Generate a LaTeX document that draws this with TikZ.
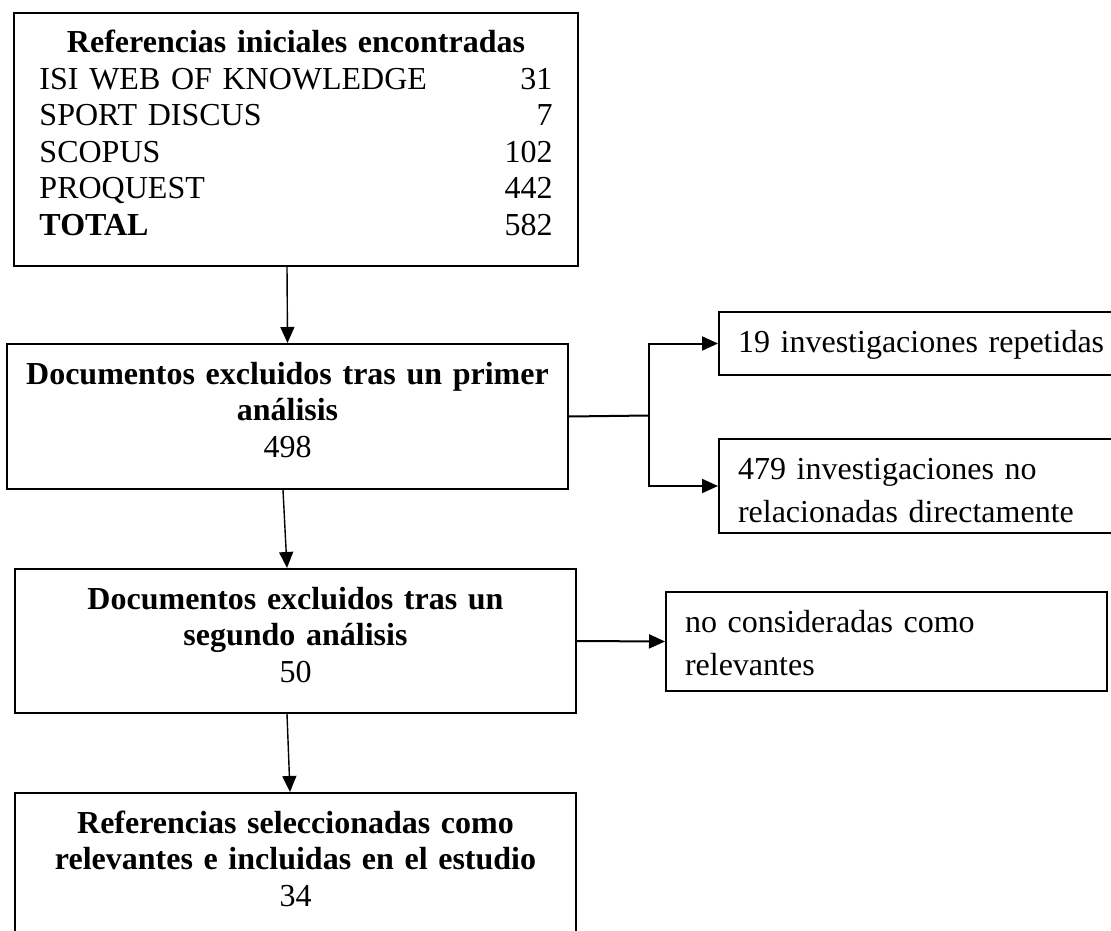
\documentclass[tikz,border=0pt]{standalone}
\usepackage{fontspec}
\setmainfont{Liberation Serif}
\usetikzlibrary{arrows.meta}

\begin{document}
\begin{tikzpicture}[
        x=0.5pt, y=-0.5pt,
        >={Triangle[length=8pt, width=7pt]},
        font=\fontsize{16}{18.25}\selectfont,
        caja/.style={draw, line width=1pt, rectangle, anchor=north west, inner xsep=8pt, inner ysep=0pt, text height=20pt, align=center},
        caja_izq/.style={caja, inner xsep=9.5pt, align=left, font=\fontsize{16}{21.75}\selectfont},
        flecha/.style={->, line width=0.7pt},
        rama/.style={line width=1pt}
    ]

    \useasboundingbox (0,0) rectangle (1111,930);
    \clip (0,0) rectangle (1111,930);

    % Cajas de la columna principal
    \node[caja, text width=256.5pt, inner xsep=12.75pt, text depth=106.5pt] (refs) at (13,12) {%
        \begin{tabular*}{256.5pt}[t]{@{}l@{\extracolsep{\fill}}r@{}}
        \multicolumn{2}{@{}c@{}}{\textbf{Referencias iniciales encontradas}}\\
        ISI WEB OF KNOWLEDGE & 31\\
        SPORT DISCUS & 7\\
        SCOPUS & 102\\
        PROQUEST & 442\\
        \textbf{TOTAL} & 582
        \end{tabular*}};
    \node[caja, text width=264.5pt, text depth=52.5pt] (excl1) at (6,343) {\textbf{Documentos excluidos tras un primer}\\ \textbf{análisis}\\ 498};
    \node[caja, text width=264.5pt, text depth=52pt] (excl2) at (14,568) {\textbf{Documentos excluidos tras un}\\ \textbf{segundo análisis}\\ 50};
    \node[caja, text width=264.5pt, text depth=59pt] (incl) at (14,792) {\textbf{Referencias seleccionadas como}\\ \textbf{relevantes e incluidas en el estudio}\\ 34};

    % Cajas laterales
    \node[caja_izq, text width=187pt, text depth=11.5pt] (rep) at (718,311) {19 investigaciones repetidas};
    \node[caja_izq, text width=187pt, text depth=27pt] (norel) at (718,438) {479 investigaciones no\\ relacionadas directamente};
    \node[caja_izq, text width=201.5pt, text depth=29.5pt] (nocons) at (665,591) {no consideradas como\\ relevantes};

    % Flechas
    \coordinate (bif) at (649,415.5);
    \draw[flecha] ([xshift=-4.5pt]refs.south) -- (excl1.north);
    \draw[flecha] ([xshift=-2.25pt]excl1.south) -- ([xshift=-4.25pt]excl2.north);
    \draw[flecha] ([xshift=-4.25pt]excl2.south) -- ([xshift=-2.75pt]incl.north);
    \draw[rama] (excl1.east) -- (bif);
    \draw[rama, ->] (bif) |- (rep.west);
    \draw[rama, ->] (bif) |- (norel.west);
    \draw[rama, ->] (excl2.east) -- (nocons.west);

\end{tikzpicture}
\end{document}
